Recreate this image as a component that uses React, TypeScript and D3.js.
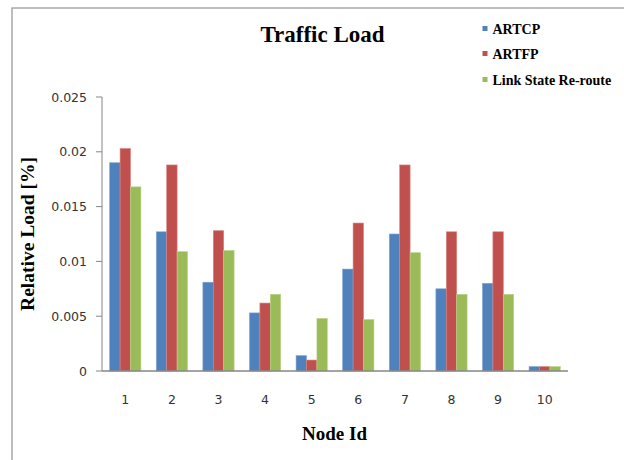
import React from "react";
import * as d3 from "d3";

const categories = ["1", "2", "3", "4", "5", "6", "7", "8", "9", "10"];
const seriesNames = ["ARTCP", "ARTFP", "Link State Re-route"];
const artcp = [0.019, 0.0127, 0.0081, 0.0053, 0.0014, 0.0093, 0.0125, 0.0075, 0.008, 0.0004];
const artfp = [0.0203, 0.0188, 0.0128, 0.0062, 0.001, 0.0135, 0.0188, 0.0127, 0.0127, 0.0004];
const linkState = [0.0168, 0.0109, 0.011, 0.007, 0.0048, 0.0047, 0.0108, 0.007, 0.007, 0.0004];
const yTicks = [0, 0.005, 0.01, 0.015, 0.02, 0.025];
const colors = ["#4F81BD", "#C0504D", "#9BBB59"];
const strokes = ["#7FA3D3", "#D98380", "#BCD48A"];

const W = 624;
const H = 460;
const plotLeft = 102;
const plotRight = 568;
const plotTop = 97;
const plotBottom = 371;

export default function App() {
  const seriesValues = [artcp, artfp, linkState];
  const x = d3.scaleBand<string>().domain(categories).range([plotLeft, plotRight]).padding(0);
  const groupW = x.bandwidth() * 0.67;
  const x1 = d3.scaleBand<string>().domain(seriesNames).range([0, groupW]).padding(0);
  const y = d3.scaleLinear().domain([0, 0.025]).range([plotBottom, plotTop]);
  const tickFont = "'DejaVu Sans', sans-serif";
  const serif = "'Liberation Serif', 'Times New Roman', serif";

  return (
    <svg
      width={W}
      height={H}
      style={{ position: "absolute", left: 0, top: 0, background: "#fff" }}
    >
      <rect x={0} y={0} width={W} height={H} fill="#fff" />
      {/* chart border */}
      <rect x={12} y={8} width={W} height={H} fill="none" stroke="#9a9a9a" strokeWidth={1.3} />

      {/* title */}
      <text x={322.5} y={42} textAnchor="middle" fontFamily={serif} fontWeight="bold" fontSize={23} fill="#000">
        Traffic Load
      </text>

      {/* legend */}
      {seriesNames.map((s, i) => {
        const cy = [28.5, 53.5, 79.5][i];
        return (
          <g key={s}>
            <rect x={482.5} y={cy - 2.5} width={5} height={5} fill={colors[i]} />
            <text x={492.5} y={cy + 5} fontFamily={serif} fontWeight="bold" fontSize={14} fill="#000">
              {s}
            </text>
          </g>
        );
      })}

      {/* y axis */}
      <line x1={plotLeft} x2={plotLeft} y1={plotTop} y2={plotBottom} stroke="#868686" strokeWidth={1} />
      {yTicks.map((t) => (
        <g key={t}>
          <line x1={plotLeft - 6} x2={plotLeft} y1={y(t)} y2={y(t)} stroke="#868686" strokeWidth={1} />
          <text
            x={87}
            y={y(t) + 4.5}
            textAnchor="end"
            fontFamily={tickFont}
            fontSize={12.5}
            fill="#333"
          >
            {t === 0 ? "0" : d3.format("")(+t.toFixed(3))}
          </text>
        </g>
      ))}

      {/* bars */}
      {categories.map((c, ci) => (
        <g key={c} transform={`translate(${(x(c) as number) + (x.bandwidth() - groupW) / 2},0)`}>
          {seriesNames.map((s, si) => {
            const v = seriesValues[si][ci];
            return (
              <rect
                key={s}
                x={x1(s) as number}
                y={y(v)}
                width={x1.bandwidth()}
                height={plotBottom - y(v)}
                fill={colors[si]}
                stroke={strokes[si]}
                strokeWidth={0.6}
              />
            );
          })}
        </g>
      ))}

      {/* x axis */}
      <line x1={plotLeft} x2={plotRight} y1={plotBottom} y2={plotBottom} stroke="#868686" strokeWidth={1.3} />
      {categories.map((c) => (
        <text
          key={c}
          x={(x(c) as number) + x.bandwidth() / 2}
          y={404}
          textAnchor="middle"
          fontFamily={tickFont}
          fontSize={12.5}
          fill="#333"
        >
          {c}
        </text>
      ))}

      {/* axis titles */}
      <text x={334.5} y={439.5} textAnchor="middle" fontFamily={serif} fontWeight="bold" fontSize={19} fill="#000">
        Node Id
      </text>
      <text
        transform={`translate(34,234) rotate(-90)`}
        textAnchor="middle"
        fontFamily={serif}
        fontWeight="bold"
        fontSize={19.5}
        fill="#000"
      >
        Relative Load [%]
      </text>
    </svg>
  );
}
